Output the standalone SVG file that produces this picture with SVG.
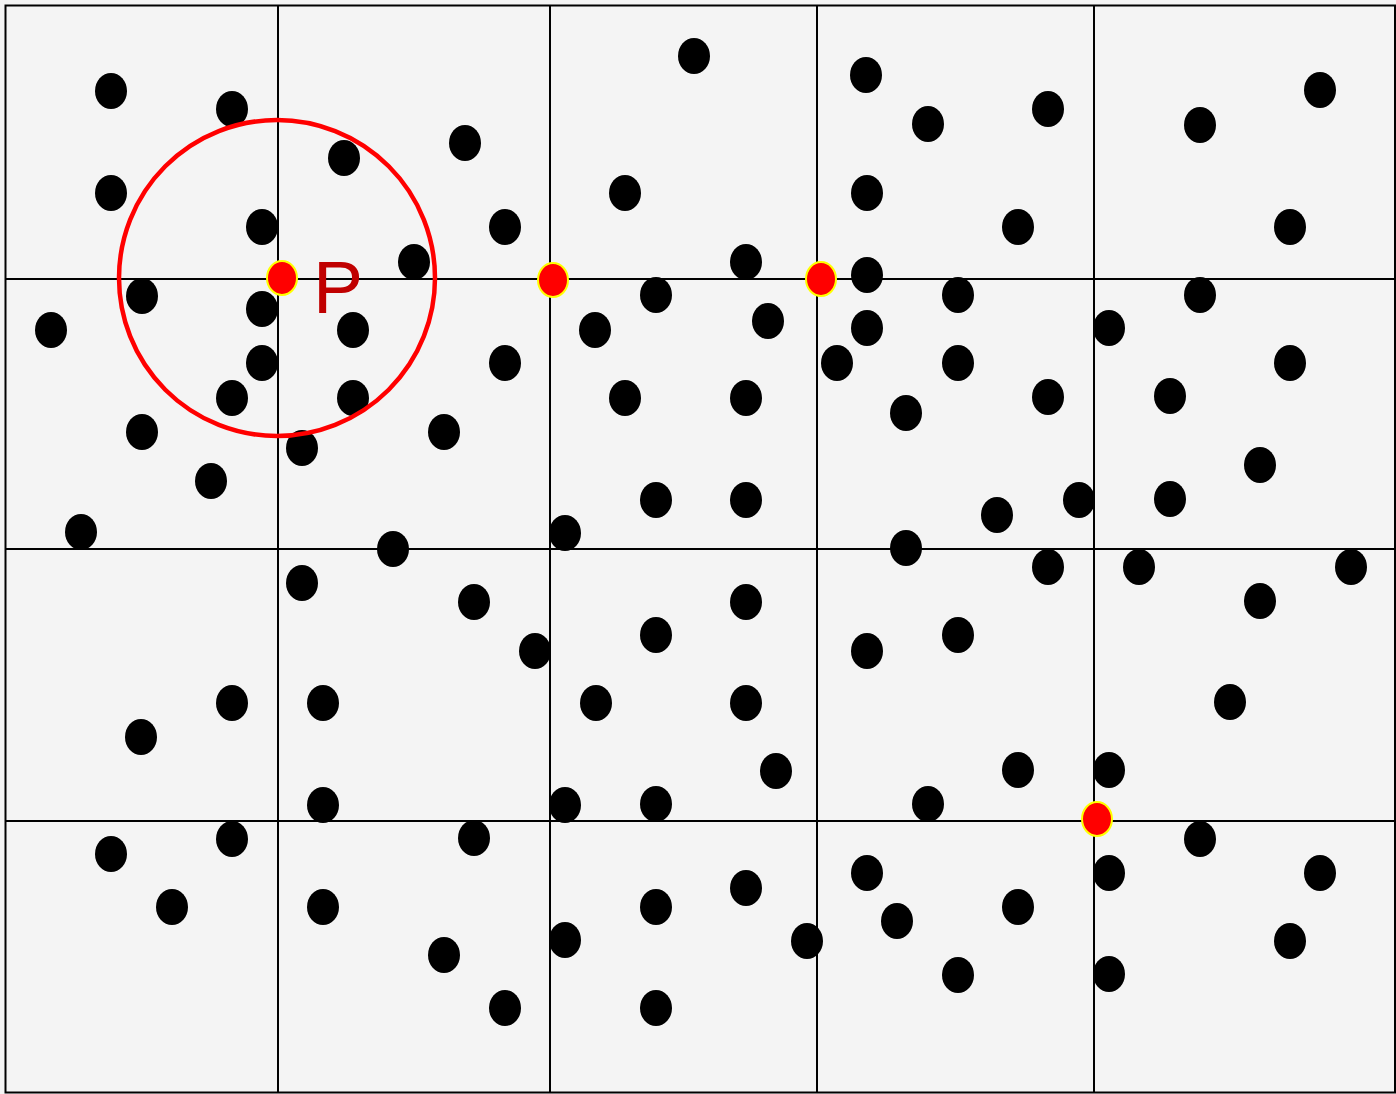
<svg xmlns="http://www.w3.org/2000/svg" width="1396" height="1094" viewBox="0 0 1396 1094">
<style>
.grid{stroke:#000;stroke-width:2;fill:none}
.d{fill:#000}
.r{fill:#ff0000;stroke:#ffff00;stroke-width:2}
.lbl{font-family:"Liberation Sans",Arial,sans-serif;font-size:75px;fill:#c00000}
</style>
<defs>
<ellipse id="dot" rx="16" ry="18" class="d"/>
<ellipse id="rdot" rx="15" ry="17" class="r"/>
</defs>
<rect x="0" y="0" width="1396" height="1094" fill="#f4f4f4"/>
<g id="grid">
<rect x="5.5" y="5.5" width="1389.5" height="1087" class="grid"/>
<line x1="278" y1="5" x2="278" y2="1093" class="grid"/>
<line x1="550" y1="5" x2="550" y2="1093" class="grid"/>
<line x1="817" y1="5" x2="817" y2="1093" class="grid"/>
<line x1="1094" y1="5" x2="1094" y2="1093" class="grid"/>
<line x1="5" y1="279" x2="1396" y2="279" class="grid"/>
<line x1="5" y1="549" x2="1396" y2="549" class="grid"/>
<line x1="5" y1="821" x2="1396" y2="821" class="grid"/>
</g>
<g id="dots">
<use href="#dot" x="111" y="91"/><use href="#dot" x="232" y="109"/><use href="#dot" x="344" y="158"/><use href="#dot" x="465" y="143"/>
<use href="#dot" x="111" y="193"/><use href="#dot" x="262" y="227"/><use href="#dot" x="505" y="227"/><use href="#dot" x="625" y="193"/>
<use href="#dot" x="694" y="56"/><use href="#dot" x="414" y="262"/><use href="#dot" x="746" y="262"/><use href="#dot" x="866" y="75"/>
<use href="#dot" x="928" y="124"/><use href="#dot" x="1048" y="109"/><use href="#dot" x="867" y="193"/><use href="#dot" x="1018" y="227"/>
<use href="#dot" x="1200" y="125"/><use href="#dot" x="1320" y="90"/><use href="#dot" x="1290" y="227"/><use href="#dot" x="867" y="275"/>
<use href="#dot" x="142" y="296"/><use href="#dot" x="51" y="330"/><use href="#dot" x="262" y="309"/><use href="#dot" x="353" y="330"/>
<use href="#dot" x="262" y="363"/><use href="#dot" x="232" y="398"/><use href="#dot" x="353" y="398"/><use href="#dot" x="142" y="432"/>
<use href="#dot" x="302" y="448"/><use href="#dot" x="444" y="432"/><use href="#dot" x="211" y="481"/><use href="#dot" x="81" y="532"/>
<use href="#dot" x="505" y="363"/><use href="#dot" x="595" y="330"/><use href="#dot" x="656" y="295"/><use href="#dot" x="768" y="321"/>
<use href="#dot" x="625" y="398"/><use href="#dot" x="746" y="398"/><use href="#dot" x="656" y="500"/><use href="#dot" x="746" y="500"/>
<use href="#dot" x="565" y="533"/><use href="#dot" x="867" y="328"/><use href="#dot" x="837" y="363"/><use href="#dot" x="958" y="295"/>
<use href="#dot" x="958" y="363"/><use href="#dot" x="906" y="413"/><use href="#dot" x="1048" y="397"/><use href="#dot" x="1109" y="328"/>
<use href="#dot" x="1200" y="295"/><use href="#dot" x="1290" y="363"/><use href="#dot" x="1170" y="396"/><use href="#dot" x="1260" y="465"/>
<use href="#dot" x="997" y="515"/><use href="#dot" x="1079" y="500"/><use href="#dot" x="1170" y="499"/>
<use href="#dot" x="393" y="549"/><use href="#dot" x="302" y="583"/><use href="#dot" x="474" y="602"/><use href="#dot" x="535" y="651"/>
<use href="#dot" x="656" y="635"/><use href="#dot" x="746" y="602"/><use href="#dot" x="906" y="548"/><use href="#dot" x="1048" y="567"/>
<use href="#dot" x="1139" y="567"/><use href="#dot" x="1351" y="567"/><use href="#dot" x="1260" y="601"/><use href="#dot" x="867" y="651"/>
<use href="#dot" x="958" y="635"/><use href="#dot" x="232" y="703"/><use href="#dot" x="323" y="703"/><use href="#dot" x="141" y="737"/>
<use href="#dot" x="596" y="703"/><use href="#dot" x="746" y="703"/><use href="#dot" x="776" y="771"/><use href="#dot" x="1230" y="702"/>
<use href="#dot" x="1018" y="770"/><use href="#dot" x="1109" y="770"/><use href="#dot" x="323" y="805"/><use href="#dot" x="565" y="805"/>
<use href="#dot" x="656" y="804"/><use href="#dot" x="928" y="804"/>
<use href="#dot" x="111" y="854"/><use href="#dot" x="232" y="839"/><use href="#dot" x="474" y="838"/><use href="#dot" x="172" y="907"/>
<use href="#dot" x="323" y="907"/><use href="#dot" x="444" y="955"/><use href="#dot" x="505" y="1008"/><use href="#dot" x="565" y="940"/>
<use href="#dot" x="656" y="907"/><use href="#dot" x="746" y="888"/><use href="#dot" x="656" y="1008"/><use href="#dot" x="807" y="941"/>
<use href="#dot" x="867" y="873"/><use href="#dot" x="897" y="921"/><use href="#dot" x="1018" y="907"/><use href="#dot" x="958" y="975"/>
<use href="#dot" x="1109" y="873"/><use href="#dot" x="1109" y="974"/><use href="#dot" x="1200" y="839"/><use href="#dot" x="1320" y="873"/>
<use href="#dot" x="1290" y="941"/>
</g>
<g id="circle">
<circle cx="277" cy="278" r="158" fill="none" stroke="#ff0000" stroke-width="4.5"/>
</g>
<g id="red-points">
<use href="#rdot" x="282" y="278"/>
<use href="#rdot" x="553" y="280"/>
<use href="#rdot" x="821" y="279"/>
<use href="#rdot" x="1097" y="819"/>
</g>
<g id="label">
<text x="313" y="313" class="lbl">P</text>
</g>
</svg>
